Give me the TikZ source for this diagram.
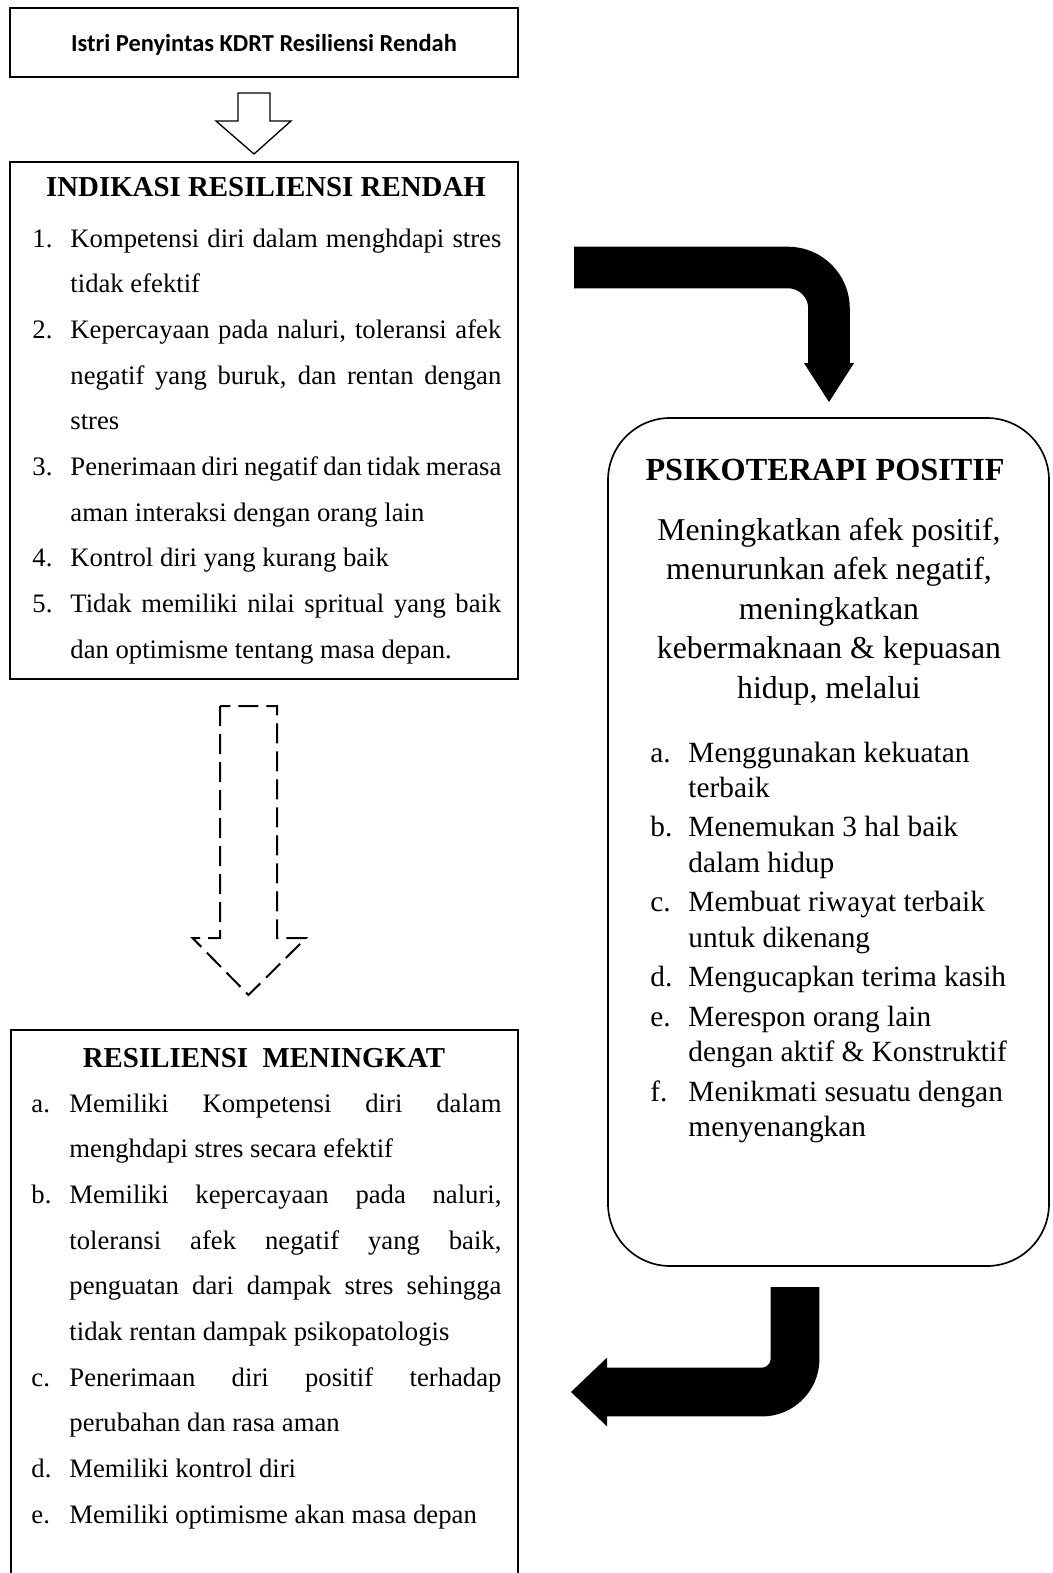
\documentclass[tikz,border=0pt]{standalone}
\usepackage{fontspec}
\setmainfont{Liberation Serif}
\newfontfamily\calibri{Carlito}
\usetikzlibrary{arrows.meta,fit,calc}
\tolerance=10000
\hyphenpenalty=10000
\exhyphenpenalty=10000
\newlength{\itmw}
\setlength{\itmw}{17.1pt}
\newcommand{\itm}[2]{\par\hangindent=\itmw\hangafter=1\noindent\hbox to \itmw{#1\hfil}#2}

\begin{document}
\begin{tikzpicture}[x=0.45pt, y=-0.45pt,
  box/.style={draw, line width=0.9pt, inner sep=0pt},
  ttl/.style={anchor=base, inner sep=0pt, font=\bfseries\fontsize{13}{15}\selectfont},
  body/.style={anchor=base west, inner sep=0pt, font=\fontsize{12}{20.57}\selectfont}]
  \useasboundingbox (0,0) rectangle (1052,1573);
  \clip (0,0) rectangle (1052,1573);

  % frames
  \node [box, minimum width=508*0.45pt, minimum height=68.5*0.45pt, text depth=0pt,
    font=\calibri\bfseries\fontsize{11}{13}\selectfont] (istri) at (264,42.75) {Istri Penyintas KDRT Resiliensi Rendah};
  \node [box, fit={(10,162)(518,679)}] (ind) {};
  \node [box, fit={(11,1030)(518,1650)}] (res) {};
  \node [box, line width=0.75pt, rounded corners=28pt, fit={(608,418)(1049,1266)}] (psiko) {};

  % titles
  \node [ttl] (indt) at (266,197) {INDIKASI RESILIENSI RENDAH};
  \node [ttl] (rest) at (264,1067) {RESILIENSI \ MENINGKAT};
  \node [ttl, font=\bfseries\fontsize{14.5}{17}\selectfont] (psikot) at (825,480) {PSIKOTERAPI POSITIF};

  % lists
  \node [body] (indl) at (32,247) {\parbox[t]{211pt}{%
    \itm{1.}{Kompetensi diri dalam menghdapi stres\linebreak tidak efektif}
    \itm{2.}{Kepercayaan pada naluri, toleransi afek\linebreak negatif yang buruk, dan rentan dengan\linebreak stres}
    \itm{3.}{Penerimaan diri negatif dan tidak merasa\linebreak aman interaksi dengan orang lain}
    \itm{4.}{Kontrol diri yang kurang baik}
    \itm{5.}{Tidak memiliki nilai spritual yang baik\linebreak dan optimisme tentang masa depan.}}};
  \node [body] (resl) at (31,1112) {\parbox[t]{211.5pt}{%
    \itm{a.}{Memiliki Kompetensi diri dalam\linebreak menghdapi stres secara efektif}
    \itm{b.}{Memiliki kepercayaan pada naluri,\linebreak toleransi afek negatif yang baik,\linebreak penguatan dari dampak stres sehingga\linebreak tidak rentan dampak psikopatologis}
    \itm{c.}{Penerimaan diri positif terhadap\linebreak perubahan dan rasa aman}
    \itm{d.}{Memiliki kontrol diri}
    \itm{e.}{Memiliki optimisme akan masa depan}}};
  \node [anchor=base, inner sep=0pt, font=\fontsize{14.3}{17.8}\selectfont] (psikop) at (829,540) {\parbox[t]{200pt}{\centering
    Meningkatkan afek positif,\\ menurunkan afek negatif,\\ meningkatkan\\ kebermaknaan \& kepuasan\\ hidup, melalui}};
  \node [body, font=\fontsize{13.2}{15.9}\selectfont] (psikol) at (650,762) {\parbox[t]{180pt}{\raggedright\parskip=1.9pt
    \itm{a.}{Menggunakan kekuatan\newline terbaik}
    \itm{b.}{Menemukan 3 hal baik\newline dalam hidup}
    \itm{c.}{Membuat riwayat terbaik\newline untuk dikenang}
    \itm{d.}{Mengucapkan terima kasih}
    \itm{e.}{Merespon orang lain\newline dengan aktif \& Konstruktif}
    \itm{f.}{Menikmati sesuatu dengan\newline menyenangkan}}};

  % arrows
  \coordinate (h1) at (254,93);
  \coordinate (h2) at (254,154);
  \draw [line width=0.6pt] (h1) ++(-16,0) -- ++(0,28) -- ++(-22,0) -- (h2) -- ++(37,-33) -- ++(-21,0) -- ++(0,-28) -- cycle;
  \coordinate (d1) at (248.5,706);
  \coordinate (d2) at (248.5,995);
  \draw [line width=0.9pt, dash pattern=on 9pt off 3.6pt] (d1) ++(-28.5,0) -- ++(0,232) -- ++(-27.5,0) -- (d2) -- ++(57.5,-57) -- ++(-29,0) -- ++(0,-232) -- cycle;
  \coordinate (a1s) at (574,267.5);
  \coordinate (a1e) at (829,402);
  \draw [line width=18.7pt, rounded corners=18.45pt, -{Triangle[width=22.5pt, length=17.5pt, line width=0pt]}] (a1s) -| (a1e);
  \coordinate (a2s) at (795,1287);
  \coordinate (a2e) at (571,1392);
  \draw [line width=22pt, rounded corners=14.9pt, -{Triangle[width=31pt, length=16.2pt, line width=0pt]}] (a2s) |- (a2e);
\end{tikzpicture}
\end{document}
